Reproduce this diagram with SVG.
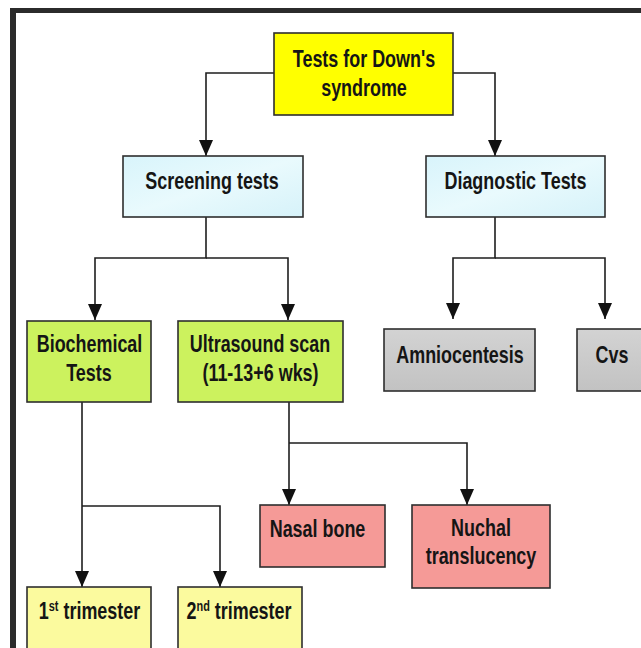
<svg xmlns="http://www.w3.org/2000/svg" width="641" height="648" viewBox="0 0 641 648">
<style>
.box{stroke:#2e2e2e;stroke-width:1.6}
.t{font-family:"Liberation Sans",Arial,sans-serif;font-weight:bold;font-size:23px;fill:#151515;text-anchor:middle}
.sup{font-size:14px}
.c{fill:none;stroke:#1e1e1e;stroke-width:1.6}
</style>
<defs>
<marker id="ah" viewBox="0 0 16 14" refX="16" refY="7" markerWidth="16" markerHeight="14" markerUnits="userSpaceOnUse" orient="auto">
<path d="M0,0 L16,7 L0,14 Z" fill="#111"/>
</marker>
<linearGradient id="cy" x1="0" y1="0" x2="1" y2="1">
<stop offset="0" stop-color="#d8f4fb"/><stop offset="0.5" stop-color="#e9fafd"/><stop offset="1" stop-color="#d6f2f9"/>
</linearGradient>
<linearGradient id="gr" x1="0" y1="0" x2="0" y2="1">
<stop offset="0" stop-color="#d3d3d3"/><stop offset="1" stop-color="#c2c2c2"/>
</linearGradient>
</defs>
<rect x="0" y="0" width="641" height="648" fill="#fff"/>
<rect x="10" y="8" width="631" height="5" fill="#2b2b2b"/>
<rect x="10" y="8" width="6" height="640" fill="#2b2b2b"/>

<g id="connectors">
<path class="c" d="M274,73 H206 V156" marker-end="url(#ah)"/>
<path class="c" d="M453,73 H495 V156" marker-end="url(#ah)"/>
<path class="c" d="M206,217 V258 H95 V320" marker-end="url(#ah)"/>
<path class="c" d="M206,258 H288 V320" marker-end="url(#ah)"/>
<path class="c" d="M495,217 V258 H453 V319" marker-end="url(#ah)"/>
<path class="c" d="M495,258 H605 V319" marker-end="url(#ah)"/>
<path class="c" d="M82,402 V587" marker-end="url(#ah)"/>
<path class="c" d="M82,506 H220 V587" marker-end="url(#ah)"/>
<path class="c" d="M289,402 V505" marker-end="url(#ah)"/>
<path class="c" d="M289,443 H467 V505" marker-end="url(#ah)"/>
</g>

<g id="root">
<rect class="box" x="274" y="33" width="179" height="82" fill="#ffff00"/>
<text class="t" transform="translate(364,67) scale(0.78,1)">Tests for Down's</text>
<text class="t" transform="translate(364,96) scale(0.78,1)">syndrome</text>
</g>
<g id="screening">
<rect class="box" x="123" y="156" width="180" height="61" fill="url(#cy)"/>
<text class="t" transform="translate(212,189) scale(0.78,1)">Screening tests</text>
</g>
<g id="diagnostic">
<rect class="box" x="426" y="156" width="179" height="61" fill="url(#cy)"/>
<text class="t" transform="translate(515.5,189) scale(0.78,1)">Diagnostic Tests</text>
</g>
<g id="biochemical">
<rect class="box" x="27" y="321" width="124" height="81" fill="#ccf25e"/>
<text class="t" transform="translate(89.5,352) scale(0.78,1)">Biochemical</text>
<text class="t" transform="translate(89,381) scale(0.78,1)">Tests</text>
</g>
<g id="ultrasound">
<rect class="box" x="178" y="321" width="165" height="81" fill="#ccf25e"/>
<text class="t" transform="translate(260,352) scale(0.78,1)">Ultrasound scan</text>
<text class="t" transform="translate(260.5,381) scale(0.78,1)">(11-13+6 wks)</text>
</g>
<g id="amniocentesis">
<rect class="box" x="384" y="329" width="151" height="62" fill="url(#gr)"/>
<text class="t" transform="translate(460,363) scale(0.78,1)">Amniocentesis</text>
</g>
<g id="cvs">
<rect class="box" x="577" y="329" width="80" height="62" fill="url(#gr)"/>
<text class="t" transform="translate(612,363) scale(0.78,1)">Cvs</text>
</g>
<g id="nasal">
<rect class="box" x="260" y="505" width="125" height="62" fill="#f59a97"/>
<text class="t" transform="translate(317.5,537) scale(0.78,1)">Nasal bone</text>
</g>
<g id="nuchal">
<rect class="box" x="412" y="505" width="138" height="83" fill="#f59a97"/>
<text class="t" transform="translate(481,536) scale(0.78,1)">Nuchal</text>
<text class="t" transform="translate(481,564) scale(0.78,1)">translucency</text>
</g>
<g id="trimester1">
<rect class="box" x="27" y="587" width="124" height="70" fill="#fbfa9e"/>
<text class="t" transform="translate(89.5,619) scale(0.78,1)">1<tspan class="sup" dy="-8">st</tspan><tspan dy="8"> trimester</tspan></text>
</g>
<g id="trimester2">
<rect class="box" x="178" y="587" width="124" height="70" fill="#fbfa9e"/>
<text class="t" transform="translate(239,619) scale(0.78,1)">2<tspan class="sup" dy="-8">nd</tspan><tspan dy="8"> trimester</tspan></text>
</g>
</svg>
